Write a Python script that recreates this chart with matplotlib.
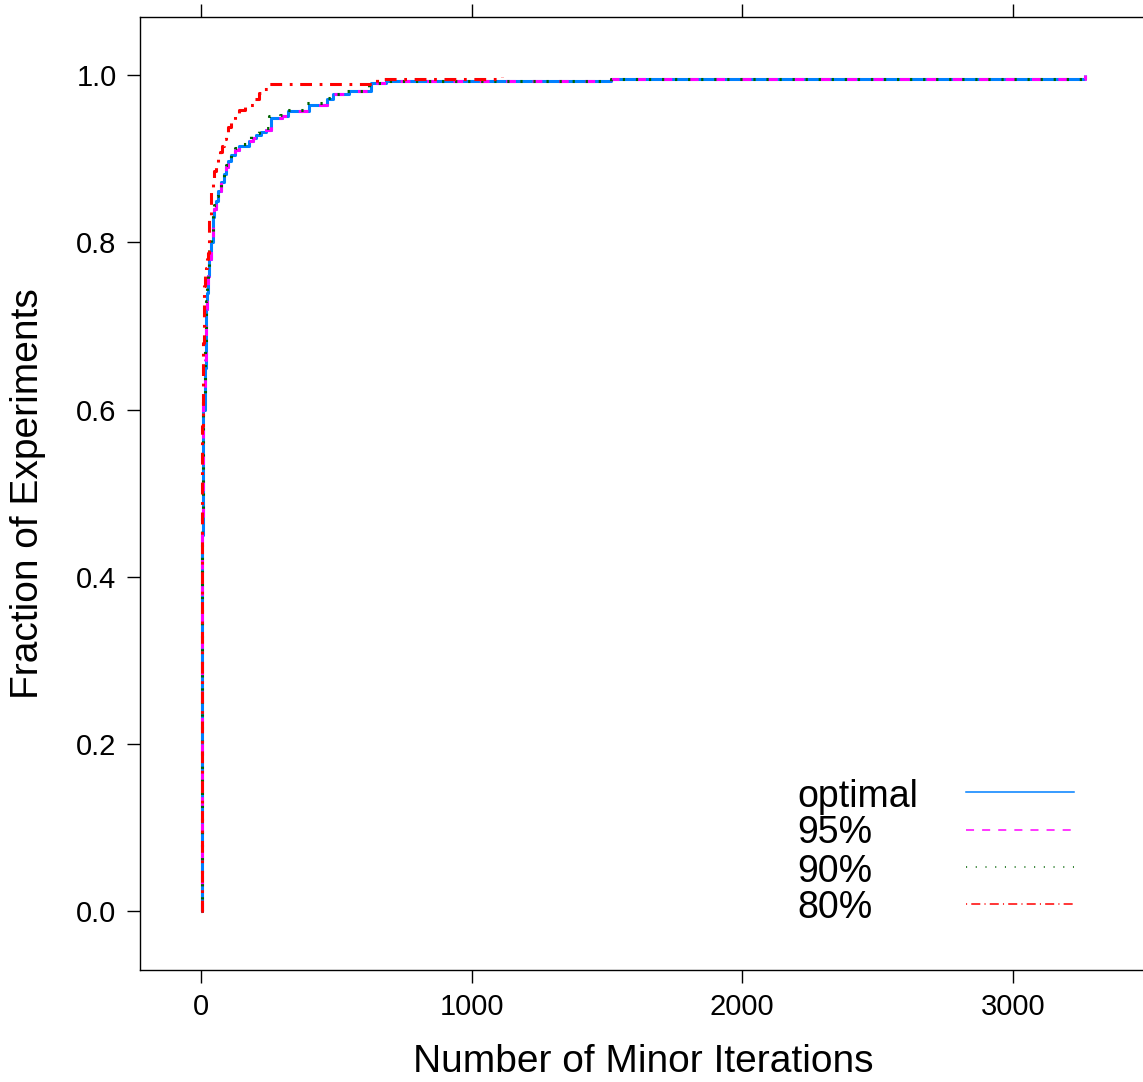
import matplotlib
matplotlib.use("Agg")
import matplotlib.pyplot as plt
from matplotlib.lines import Line2D

plt.rcParams['font.family'] = ['Liberation Sans', 'DejaVu Sans']
plt.rcParams['lines.scale_dashes'] = False

# step points (iterations, cumulative fraction)
opt_x = [0, 1, 2, 3, 5, 8, 12, 16, 19, 22, 26, 30, 35, 42, 48, 55, 63, 73, 82, 91, 100, 110,
         125, 140, 177, 190, 202, 220, 239, 257, 300, 319, 398, 466, 485, 546, 626, 681, 1513, 3266]
opt_y = [0.0, 0.12, 0.3, 0.45, 0.55, 0.6, 0.65, 0.7, 0.72, 0.74, 0.76, 0.78, 0.8, 0.83, 0.84,
         0.85, 0.862, 0.872, 0.882, 0.89, 0.898, 0.905, 0.91, 0.915, 0.921, 0.925, 0.929, 0.932,
         0.935, 0.949, 0.951, 0.957, 0.965, 0.971, 0.977, 0.981, 0.9904, 0.9928, 0.996, 1.0]

p95_x = [0, 1, 2, 3, 5, 8, 12, 16, 19, 22, 26, 30, 35, 42, 48, 55, 63, 73, 82, 91, 100, 110,
         125, 140, 177, 190, 202, 220, 239, 257, 300, 319, 398, 466, 485, 546, 626, 681, 1513, 3266]
p95_y = [0.0, 0.12, 0.31, 0.46, 0.56, 0.61, 0.66, 0.7, 0.72, 0.74, 0.76, 0.78, 0.8, 0.83, 0.84,
         0.85, 0.862, 0.872, 0.882, 0.89, 0.898, 0.905, 0.91, 0.915, 0.921, 0.925, 0.929, 0.932,
         0.935, 0.949, 0.951, 0.957, 0.965, 0.971, 0.977, 0.981, 0.9904, 0.9928, 0.996, 1.0]

p90_x = [0, 1, 2, 3, 5, 8, 12, 16, 19, 22, 26, 30, 35, 42, 48, 55, 63, 73, 82, 91, 100, 110,
         125, 140, 170, 185, 195, 215, 235, 252, 290, 310, 380, 460, 480, 540, 620, 681, 1513, 3266]
p90_y = [0.0, 0.13, 0.32, 0.47, 0.57, 0.62, 0.67, 0.71, 0.73, 0.75, 0.77, 0.79, 0.81, 0.835, 0.845,
         0.855, 0.865, 0.875, 0.885, 0.893, 0.9, 0.908, 0.913, 0.918, 0.923, 0.927, 0.931, 0.934,
         0.937, 0.951, 0.953, 0.959, 0.967, 0.973, 0.977, 0.981, 0.9904, 0.9928, 0.996, 1.0]

p80_x = [0, 1, 2, 3, 5, 8, 11, 14, 17, 20, 23, 27, 30, 36, 42, 48, 54, 60, 68, 75, 83, 91, 100,
         110, 125, 140, 160, 175, 195, 214, 230, 245, 650, 1110]
p80_y = [0.0, 0.2, 0.45, 0.58, 0.63, 0.68, 0.748, 0.76, 0.77, 0.78, 0.788, 0.81, 0.83, 0.864,
         0.875, 0.885, 0.893, 0.9, 0.908, 0.915, 0.924, 0.932, 0.938, 0.945, 0.952, 0.959, 0.962,
         0.965, 0.972, 0.979, 0.984, 0.989, 0.996, 0.998]

labels = ['optimal', '95%', '90%', '80%']
colors = ['#0080ff', '#ff00ff', '#006400', '#ff0000']

fig = plt.figure(figsize=(11.43, 10.82), dpi=100)
ax = fig.add_axes([139.5 / 1143, 112 / 1082, 1007 / 1143, 953.3 / 1082])

xmax = 3266
ax.set_xlim(-0.07 * xmax, 1.07 * xmax)
ax.set_ylim(-0.07, 1.07)

ax.step(opt_x, opt_y, where='post', color=colors[0], lw=2.2, solid_capstyle='butt')
ax.step(p95_x, p95_y, where='post', color=colors[1], lw=2.2, dashes=(7, 12))
ax.step(p90_x, p90_y, where='post', color=colors[2], lw=2.2, dashes=(1.6, 7.8))
ax.step(p80_x, p80_y, where='post', color=colors[3], lw=2.2, dashes=(8.5, 5.5, 2, 5.5))

ax.set_xticks([0, 1000, 2000, 3000])
ax.set_yticks([0.0, 0.2, 0.4, 0.6, 0.8, 1.0])
ax.set_yticklabels(['0.0', '0.2', '0.4', '0.6', '0.8', '1.0'])
ax.tick_params(axis='both', direction='out', length=9.5, width=1, labelsize=21, pad=7)
ax.tick_params(axis='x', top=True, labeltop=False)
ax.spines['right'].set_visible(False)
for s in ['left', 'bottom', 'top']:
    ax.spines[s].set_linewidth(1)

fig.text(643 / 1143, 1 - 1062 / 1082, 'Number of Minor Iterations', fontsize=28,
         ha='center', va='center')
fig.text(28 / 1143, 1 - 493.5 / 1082, 'Fraction of Experiments', fontsize=28,
         ha='center', va='center', rotation=90)

# key in the lower right, text first then line sample
ybase = [806.7, 843, 881.7, 918]
yline = [792, 830, 866.7, 904.3]
key_dash = [None, (5.8, 5.8), (0.8, 6.2), (0.8, 3, 6.5, 3)]
for lab, col, yb, yl, ds in zip(labels, colors, ybase, yline, key_dash):
    fig.text(797 / 1143, 1 - yb / 1082, lab, fontsize=27, ha='left', va='baseline')
    ln = Line2D([966 / 1143, 1074 / 1143], [1 - yl / 1082, 1 - yl / 1082], color=col, lw=1.1,
                transform=fig.transFigure)
    if ds is not None:
        ln.set_dashes(ds)
    fig.add_artist(ln)

fig.savefig('out.png', dpi=100)
